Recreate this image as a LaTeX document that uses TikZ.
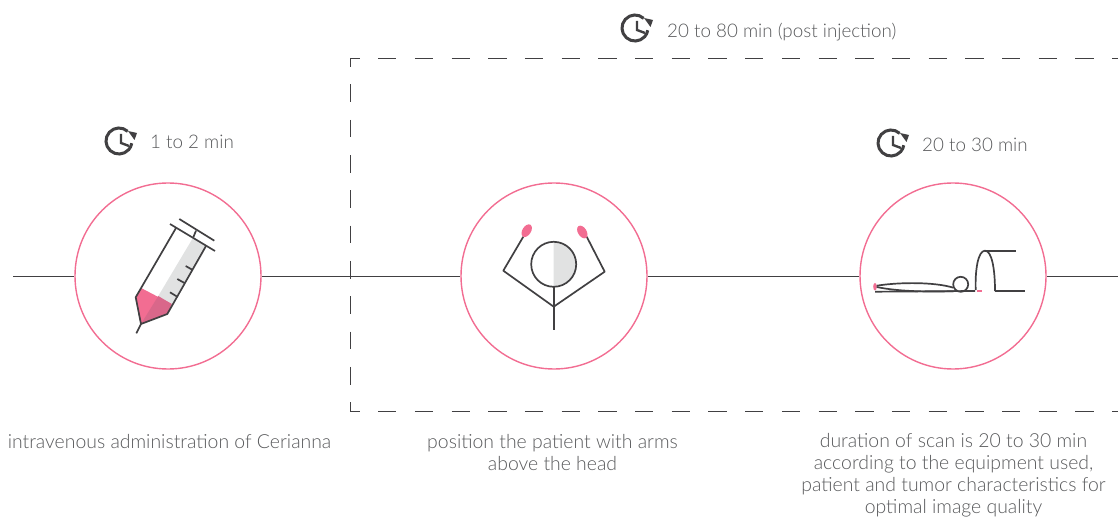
\documentclass[tikz,border=0pt]{standalone}
\usepackage{fontspec}
\setmainfont{Lato}[UprightFont=* Light]
\usepackage{tikz}
\usetikzlibrary{arrows.meta,positioning,calc}
\definecolor{inkgray}{HTML}{414042}
\definecolor{textgray}{HTML}{58595B}
\definecolor{rosepink}{HTML}{F26D92}
\definecolor{rosedark}{HTML}{D9678A}
\definecolor{fillgray}{HTML}{E1E2E2}
\tikzset{
  clockicon/.pic={
    \draw[inkgray, line width=3pt] (-48:13) arc[start angle=-48, end angle=-350, radius=13];
    \fill[inkgray] (9,-10) -- (18,-8) -- (15.5,-1) -- cycle;
    \draw[inkgray, line width=2.4pt] (2,-7) -- (2,2) -- (10,5);
  }
}
\begin{document}
\begin{tikzpicture}[
  x=1pt, y=-1pt,
  stage/.style={draw=rosepink, circle, line width=1.4pt, minimum size=186pt, inner sep=0pt},
  arr/.style={draw=inkgray, line width=0.9pt},
  frameh/.style={arr, dash pattern=on 18.3pt off 18.4pt, dash phase=8.6pt},
  framev/.style={arr, dash pattern=on 17.65pt off 17.65pt, dash phase=8.8pt},
  icon/.style={draw=inkgray, line width=1.7pt, line join=round},
  caption/.style={align=center, text=textgray, font=\fontsize{19.4}{22}\selectfont, inner sep=0pt},
  timing/.style={text=textgray, font=\fontsize{18.8}{22}\selectfont, inner sep=0pt, anchor=west}
]
\useasboundingbox (0,0) rectangle (1118,518);

% circles and the line through them
\node[stage] (inject) at (168,276) {};
\node[stage] (position) at (554,276) {};
\node[stage] (scan) at (953,276) {};
\coordinate (start) at (13,276);
\coordinate (finish) at (1118,276);
\draw[arr] (start) -- (inject);
\draw[arr] (inject) -- (position);
\draw[arr] (position) -- (scan);
\draw[arr] (scan) -- (finish);

% post injection frame
\coordinate (frametr) at (1118,58);
\coordinate (frametl) at (350,58);
\coordinate (framebl) at (350,411);
\coordinate (framebr) at (1118,411);
\draw[frameh] (frametl) -- (frametr);
\draw[framev] (frametl) -- (framebl);
\draw[frameh] (framebl) -- (framebr);

% timings
\pic at (119,141) {clockicon};
\node[timing] (t1) at (150,141.5) {1 to 2 min};
\pic at (635,28) {clockicon};
\node[timing] (t2) at (667,32) {20 to 80 min (post injection)};
\pic at (891,143) {clockicon};
\node[timing] (t3) at (922,144.5) {20 to 30 min};

% syringe
\fill[fillgray] (192.7,238.3) -- (206,246) -- (171.7,304) -- (158.3,296) -- cycle;
\fill[rosepink] (141.7,288.3) -- (171.7,304) -- (167.3,314) -- (141,324) -- (135.7,297.3) -- cycle;
\fill[rosedark] (158.3,296) -- (171.7,304) -- (167.3,314) -- (141,324) -- cycle;
\draw[icon] (176,228) -- (135.7,297.3) -- (141,324) -- (167.3,314) -- (206,246);
\draw[icon] (170,224) -- (215,251);
\draw[icon] (179.3,219) -- (214.3,240.7);
\draw[icon] (196,230.7) -- (193.3,237.3);
\draw[icon] (141,324) -- (136.3,333.3);
\draw[icon] (185.7,266) -- (192.7,270);
\draw[icon] (177.3,279) -- (185,283.3);
\draw[icon] (170,292.3) -- (177.7,297);

% patient, arms up
\fill[fillgray] (553.7,241.8) arc[start angle=-90, end angle=90, radius=22.5] -- cycle;
\draw[icon] (553.7,264.3) circle[radius=22.5];
\draw[icon] (553.7,286.8) -- (553.7,330);
\draw[icon] (523.3,236.7) -- (503.3,270.7) -- (553.7,306.7) -- (604.7,271.7) -- (586.7,236.7);
\fill[rosepink, rotate around={58:(526.7,230.7)}] (526.7,230.7) ellipse[x radius=7, y radius=4.3];
\fill[rosepink, rotate around={-58:(582.3,232)}] (582.3,232) ellipse[x radius=7, y radius=4.3];

% scanner
\fill[rosepink] (875,286.7) ellipse[x radius=1.8, y radius=3.8];
\draw[icon] (875,291.7) -- (975,291);
\draw[rosepink, line width=1.7pt] (976.5,291) -- (981.7,291);
\draw[icon] (876.7,285.7) .. controls (900,282) and (935,282) .. (953.3,287.7);
\draw[icon] (876.7,287) .. controls (900,292) and (935,292) .. (957,291);
\draw[icon] (960.7,284.3) circle[radius=7.5];
\draw[icon] (975.7,290) .. controls (975,270) and (978,250.7) .. (985,250.7) .. controls (992,250.7) and (995,270) .. (995,291);
\draw[icon] (985,250.7) -- (1015.7,250.7);
\draw[icon] (995,291) -- (1025,291);

% captions
\node[caption] (c1) at (169.5,442) {intravenous administration of Cerianna};
\node[caption] (c2) at (552.5,453) {position the patient with arms\\above the head};
\node[caption] (c3) at (953.5,475) {duration of scan is 20 to 30 min\\according to the equipment used,\\patient and tumor characteristics for\\optimal image quality};
\end{tikzpicture}
\end{document}
